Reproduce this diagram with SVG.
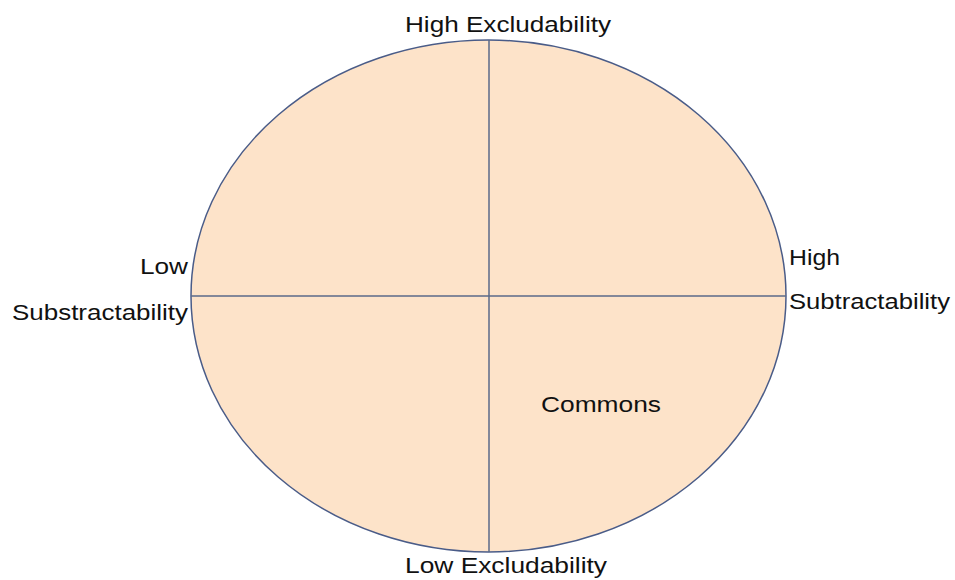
<svg xmlns="http://www.w3.org/2000/svg" width="955" height="580" viewBox="0 0 955 580">
<style>
.lbl{font-family:"Liberation Sans",Arial,sans-serif;font-size:22px;fill:#111}
.axis{stroke:#5a6a88;stroke-width:1.5;fill:none}
</style>
<rect width="955" height="580" fill="#fff"/>
<g id="ellipse">
<ellipse cx="488.5" cy="296" rx="297.5" ry="256" fill="#fde3c9" stroke="#4a5c88" stroke-width="1.5"/>
</g>
<g id="connectors">
<line class="axis" x1="489" y1="40" x2="489" y2="552"/>
<line class="axis" x1="191" y1="296" x2="786" y2="296"/>
</g>
<g id="high-excludability"><text class="lbl" x="405" y="32" textLength="206" lengthAdjust="spacingAndGlyphs">High Excludability</text></g>
<g id="low-excludability"><text class="lbl" x="405" y="573" textLength="202" lengthAdjust="spacingAndGlyphs">Low Excludability</text></g>
<g id="low-sub">
<text class="lbl" x="140" y="274" textLength="48" lengthAdjust="spacingAndGlyphs">Low</text>
<text class="lbl" x="12" y="320" textLength="176" lengthAdjust="spacingAndGlyphs">Substractability</text>
</g>
<g id="high-sub">
<text class="lbl" x="789" y="265" textLength="51" lengthAdjust="spacingAndGlyphs">High</text>
<text class="lbl" x="789" y="309" textLength="161" lengthAdjust="spacingAndGlyphs">Subtractability</text>
</g>
<g id="commons"><text class="lbl" x="541" y="412" textLength="120" lengthAdjust="spacingAndGlyphs">Commons</text></g>
</svg>
